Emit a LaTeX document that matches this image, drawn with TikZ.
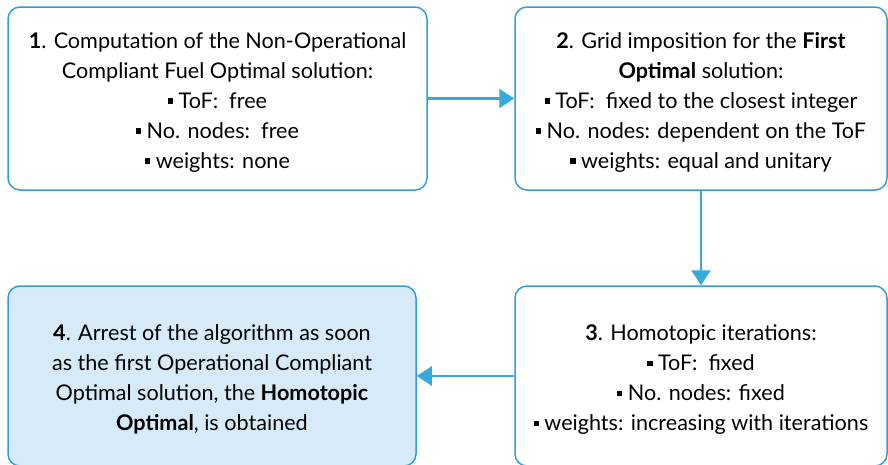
\documentclass[tikz,border=0pt]{standalone}
\usepackage{fontspec}
\setmainfont{Lato}
\usetikzlibrary{arrows.meta}
\definecolor{boxblue}{HTML}{2E9FDA}
\definecolor{arrowblue}{HTML}{38AADA}
\definecolor{lightblue}{HTML}{D7EAF8}
\newcommand{\sqbullet}{\rule[0.22em]{0.24em}{0.24em}\ }
\newcommand{\toprow}{\rule{0pt}{23.5pt}}
\tikzset{
  stepbox/.style={draw=boxblue, line width=1.5pt, rounded corners=12pt, align=center,
    inner sep=0pt, font=\fontsize{21.6}{30}\selectfont},
  flow/.style={draw=arrowblue, line width=2.8pt, -{Triangle[length=15pt,width=19pt]}}
}
\begin{document}
\begin{tikzpicture}[x=1pt,y=-1pt]
        \useasboundingbox (0,0) rectangle (888,464);
        \node[stepbox, minimum width=419pt, minimum height=183pt] (fuel) at (217.5,98.5)
          {\toprow\textbf{1}. Computation of the Non-Operational\\Compliant Fuel Optimal solution:\\
           \sqbullet ToF:\ \ free\\\sqbullet No. nodes:\ \ free\\\sqbullet weights: none};
        \node[stepbox, minimum width=372pt, minimum height=183pt] (grid) at (701,98.5)
          {\toprow\textbf{2}. Grid imposition for the \textbf{First}\\\textbf{Optimal} solution:\\
           \sqbullet ToF:\ \ fixed to the closest integer\\\sqbullet No. nodes: dependent on the ToF\\
           \sqbullet weights: equal and unitary};
        \node[stepbox, minimum width=372pt, minimum height=180pt] (homo) at (701,376)
          {\toprow\textbf{3}. Homotopic iterations:\\\sqbullet ToF:\ \ fixed\\\sqbullet No. nodes: fixed\\
           \sqbullet weights: increasing with iterations};
        \node[stepbox, fill=lightblue, minimum width=408pt, minimum height=180pt] (arrest) at (212,376)
          {\toprow\textbf{4}. Arrest of the algorithm as soon\\as the first Operational Compliant\\
           Optimal solution, the \textbf{Homotopic}\\\textbf{Optimal}, is obtained};
        \draw[flow] (fuel) -- (grid);
        \draw[flow] (grid) -- (homo);
        \draw[flow] (homo) -- (arrest);
    \end{tikzpicture}
\end{document}
